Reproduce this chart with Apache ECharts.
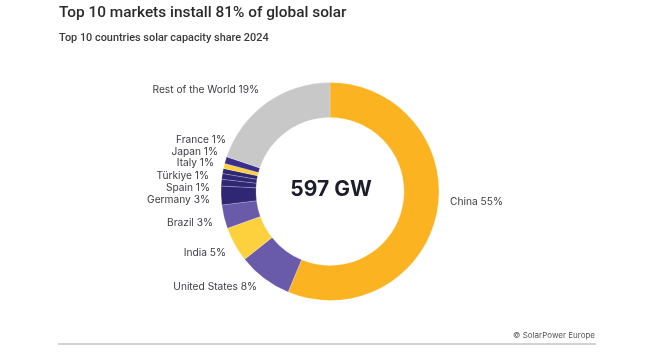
<!DOCTYPE html>
<html>
<head>
<meta charset="utf-8">
<style>
  html, body { margin: 0; padding: 0; background: #ffffff; }
  #chart { width: 660px; height: 362px; }
</style>
<script src="https://cdn.jsdelivr.net/npm/echarts@6/dist/echarts.min.js"></script>
</head>
<body>
<div id="chart"></div>
<script>
// ---- Data ----
const countries = ['China', 'United States', 'India', 'Brazil', 'Germany', 'Spain', 'Türkiye', 'Italy', 'Japan', 'France', 'Rest of the World'];
const capacityGW = [336, 48, 31, 21, 16.5, 6, 5, 4.5, 4.5, 6, 118.5];
const shareLabels = ['55%', '8%', '5%', '3%', '3%', '1%', '1%', '1%', '1%', '1%', '19%'];
const totalLabel = '597 GW';
const titleText = 'Top 10 markets install 81% of global solar';
const subtitleText = 'Top 10 countries solar capacity share 2024';
const sourceText = '© SolarPower Europe';

// ---- Styles ----
const colors = ['#FBB321', '#6A5BAA', '#FDD03E', '#6A5BAA', '#2F2774', '#2F2774', '#2F2774', '#2F2774', '#FDD03E', '#3A2E8C', '#C8C8C8'];
// label anchor positions (layout only): [x, y, align]
const labelLayoutPos = [
  [450, 202, 'left'],
  [257, 287, 'right'],
  [226, 253, 'right'],
  [213, 223, 'right'],
  [210, 200, 'right'],
  [210, 188, 'right'],
  [209, 176, 'right'],
  [214, 163, 'right'],
  [218, 152, 'right'],
  [226, 140, 'right'],
  [259, 90, 'right']
];

const FONT = 'Inter, "Noto Sans", sans-serif';
const TFONT = 'Roboto, "Noto Sans", sans-serif';
const chart = echarts.init(document.getElementById('chart'), null, { renderer: 'canvas' });

const pieData = countries.map((c, i) => ({
  name: c,
  value: capacityGW[i],
  itemStyle: { color: colors[i] }
}));

chart.setOption({
  backgroundColor: '#ffffff',
  animation: false,
  title: [
    {
      text: titleText,
      left: 59, top: 6, padding: 0,
      textStyle: { fontFamily: TFONT, fontSize: 15.4, fontWeight: 500, color: '#2a2a2a' }
    },
    {
      text: subtitleText,
      left: 59, top: 33, padding: 0,
      textStyle: { fontFamily: TFONT, fontSize: 10.9, fontWeight: 500, color: '#3a3a3a' }
    }
  ],
  graphic: [
    {
      type: 'text',
      x: 331, y: 190,
      style: { text: totalLabel, fontFamily: FONT, fontSize: 21, fontWeight: 700, fill: '#1c1c2a', align: 'center', verticalAlign: 'middle' }
    },
    {
      type: 'line',
      shape: { x1: 58, y1: 344, x2: 596, y2: 344 },
      style: { stroke: '#c4c4c8', lineWidth: 1.5 }
    },
    {
      type: 'text',
      x: 595, y: 336,
      style: { text: sourceText, fontFamily: FONT, fontSize: 8, fill: '#555', align: 'right', verticalAlign: 'middle' }
    }
  ],
  series: [
    {
      type: 'pie',
      center: [330, 191.5],
      radius: [74, 109],
      startAngle: 90,
      clockwise: true,
      avoidLabelOverlap: false,
      itemStyle: { borderColor: 'rgba(255,255,255,0.35)', borderWidth: 0.6 },
      label: {
        show: true,
        position: 'outside',
        fontFamily: FONT,
        fontSize: 10.2,
        color: '#3c3c44',
        formatter: (p) => p.name + ' ' + shareLabels[p.dataIndex]
      },
      labelLine: { show: false },
      labelLayout: (params) => {
        const pos = labelLayoutPos[params.dataIndex];
        return { x: pos[0], y: pos[1], align: pos[2], verticalAlign: 'middle', hideOverlap: false };
      },
      emphasis: { disabled: true },
      data: pieData
    }
  ]
});
</script>
</body>
</html>
